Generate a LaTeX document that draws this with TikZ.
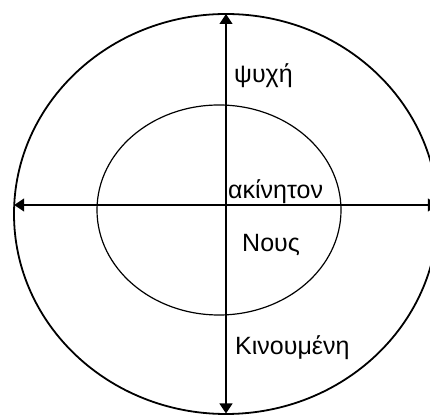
\documentclass[tikz,border=0pt]{standalone}
\usepackage{fontspec}
\setmainfont{Liberation Sans}
\usetikzlibrary{arrows.meta}

\begin{document}
\begin{tikzpicture}[x=1pt,y=1pt,
    every node/.style={font=\fontsize{25}{29}\selectfont,inner sep=0pt,anchor=base west},
    axis/.style={line width=1.2pt,{Triangle[length=10pt,width=13pt]}-{Triangle[length=10pt,width=13pt]}}]

    \useasboundingbox (0,0) rectangle (430,414);

    % outer ellipse (psyche) and inner ellipse (nous)
    \draw[line width=1.8pt] (226,200) ellipse [x radius=212,y radius=200];
    \draw[line width=1.2pt] (219,204) ellipse [x radius=122,y radius=105];

    % ends of the axes, on the outer ellipse
    \coordinate (leftend) at (14.2,209);
    \coordinate (rightend) at (437.8,209);
    \coordinate (topend) at (226,400);
    \coordinate (botend) at (226,0.5);

    % axes
    \draw[axis] (leftend) -- (rightend);
    \draw[axis] (topend) -- (botend);

    % labels
    \node (psyche) at (234,331) {ψυχή};
    \node (akin) at (228,215) {ακίνητον};
    \node (nous) at (242,162) {Νους};
    \node (kinoum) at (235,59) {Κινουμένη};

\end{tikzpicture}
\end{document}
